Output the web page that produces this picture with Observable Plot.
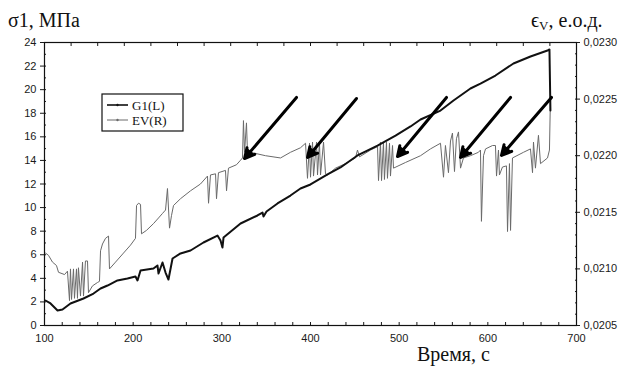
<!DOCTYPE html>
<html>
<head>
<meta charset="utf-8">
<script src="https://cdn.jsdelivr.net/npm/d3@7"></script>
<script src="https://cdn.jsdelivr.net/npm/@observablehq/plot@0.6"></script>
<style>
  body { margin: 0; background: #fff; }
  #chart { width: 625px; height: 369px; overflow: hidden; }
</style>
</head>
<body>
<div id="chart"></div>
<script>
// Stress σ1 (left axis, MPa) versus time, s
const g1Time = [101.1,106.8,114.7,120.3,129.3,144.0,155.3,163.2,171.1,182.3,193.6,202.6,204.9,208.3,222.9,227.4,228.6,233.1,236.5,239.8,244.4,253.4,264.7,279.3,295.1,298.5,300.7,301.9,321.1,340.2,345.9,347.0,350.4,362.8,377.4,388.7,400.0,419.2,433.8,453.0,475.6,495.9,512.8,524.1,546.6,561.3,580.4,591.7,608.6,628.9,648.1,667.3,669.5,670.6];
const g1Stress = [2.12,1.87,1.27,1.36,1.87,2.29,2.71,3.14,3.39,3.82,3.99,4.16,3.82,4.66,4.83,5.09,4.41,5.34,4.49,3.90,5.68,6.11,6.36,7.04,7.63,7.21,6.61,7.46,8.65,9.33,9.58,9.24,9.67,10.35,11.02,11.62,11.96,12.81,13.40,14.42,15.26,16.11,16.88,17.47,18.23,19.08,20.10,20.52,21.20,22.22,22.81,23.32,23.41,18.23];

// Volumetric strain εV (right axis, relative units) versus time, s
const evTime = [101.1,104.5,109.0,113.5,115.8,122.6,125.9,128.2,129.3,130.5,132.7,133.8,136.1,137.2,138.3,140.6,142.9,144.0,146.2,148.5,149.6,154.1,159.8,162.0,163.2,165.4,168.8,172.2,173.3,180.1,189.1,197.0,202.6,203.8,206.0,208.3,209.4,215.0,222.9,228.6,233.1,236.5,238.7,241.0,243.2,245.5,253.4,264.7,275.9,283.8,285.0,287.2,292.9,294.0,296.2,304.1,305.3,307.5,316.5,321.1,323.3,324.4,325.6,327.8,329.0,332.3,349.2,366.2,377.4,388.7,394.4,396.6,398.9,400.0,402.3,403.4,406.8,407.9,410.1,411.3,414.7,416.9,419.2,428.2,439.5,450.7,453.0,455.3,467.7,475.6,476.7,478.9,480.1,482.3,483.4,485.7,486.8,489.1,490.2,492.5,493.6,507.1,524.1,535.3,546.6,550.0,552.2,555.6,557.9,560.1,562.4,564.6,566.9,569.2,572.5,580.4,589.4,591.7,592.8,595.1,597.4,605.3,608.6,609.8,612.0,613.1,616.5,621.0,622.2,624.4,625.6,627.8,640.2,648.1,650.4,651.5,653.7,657.1,659.4,667.3,669.5,670.6];
const evStrain = [0.02114,0.02112,0.02106,0.02103,0.02097,0.02095,0.02098,0.02072,0.02100,0.02073,0.02100,0.02074,0.02100,0.02074,0.02101,0.02076,0.02106,0.02076,0.02107,0.02107,0.02079,0.02085,0.02088,0.02089,0.02116,0.02122,0.02127,0.02129,0.02100,0.02106,0.02114,0.02121,0.02127,0.02156,0.02158,0.02157,0.02131,0.02134,0.02140,0.02145,0.02149,0.02152,0.02171,0.02136,0.02147,0.02156,0.02162,0.02169,0.02175,0.02182,0.02158,0.02183,0.02184,0.02162,0.02185,0.02187,0.02169,0.02189,0.02192,0.02196,0.02198,0.02231,0.02203,0.02229,0.02201,0.02203,0.02200,0.02198,0.02203,0.02207,0.02211,0.02180,0.02211,0.02181,0.02212,0.02182,0.02212,0.02183,0.02212,0.02183,0.02212,0.02184,0.02183,0.02189,0.02193,0.02198,0.02205,0.02199,0.02205,0.02208,0.02178,0.02212,0.02178,0.02212,0.02179,0.02212,0.02180,0.02211,0.02182,0.02209,0.02189,0.02194,0.02200,0.02206,0.02211,0.02181,0.02209,0.02185,0.02213,0.02220,0.02186,0.02215,0.02221,0.02189,0.02198,0.02200,0.02203,0.02205,0.02142,0.02200,0.02206,0.02209,0.02209,0.02182,0.02205,0.02183,0.02190,0.02191,0.02133,0.02193,0.02134,0.02198,0.02203,0.02206,0.02185,0.02212,0.02189,0.02218,0.02193,0.02198,0.02205,0.02251];

// Axis ticks
const xTicks = [100, 200, 300, 400, 500, 600, 700];
const yTicks = [0, 2, 4, 6, 8, 10, 12, 14, 16, 18, 20, 22, 24];
const evTicks = [0.0205, 0.0210, 0.0215, 0.0220, 0.0225, 0.0230];
const evTickLabels = ["0,0205", "0,0210", "0,0215", "0,0220", "0,0225", "0,0230"];

// Arrows marking the instability episodes (time, stress-axis units)
const arrowTailTime = [384.2, 451.9, 553.4, 625.6, 671.8];
const arrowTailStress = [19.34, 19.25, 19.34, 19.34, 19.34];
const arrowTipTime = [325.6, 396.6, 498.1, 569.2, 615.4];
const arrowTipStress = [14.16, 14.25, 14.33, 14.25, 14.42];

// Right axis shares the left axis: map strain onto the stress range
const evToStress = d3.scaleLinear([0.0205, 0.0230], [0, 24]);

const g1 = g1Time.map((t, i) => ({t, s: g1Stress[i]}));
const ev = evTime.map((t, i) => ({t, s: evToStress(evStrain[i])}));
const arrows = arrowTailTime.map((t, i) => ({
  t1: t, s1: arrowTailStress[i], t2: arrowTipTime[i], s2: arrowTipStress[i]
}));

const evPos = evTicks.map(e => evToStress(e));
const evLabelAt = new Map(evPos.map((p, i) => [p, evTickLabels[i]]));
const evMinor = d3.range(0, 26).map(k => evToStress(0.0205 + k * 0.0001));

const chart = Plot.plot({
  width: 625,
  height: 369,
  marginLeft: 44,
  marginRight: 49,
  marginTop: 42,
  marginBottom: 44,
  x: {domain: [100, 700]},
  y: {domain: [0, 24]},
  style: {fontFamily: '"Liberation Sans", Arial, sans-serif', fontSize: "11px", color: "#1a1a1a", background: "#fff"},
  marks: [
    // minor ticks inside the frame
    Plot.axisX({ticks: d3.range(100, 701, 20), tickSize: -3, text: null, label: null}),
    Plot.axisX({anchor: "top", ticks: d3.range(100, 701, 30), tickSize: -3, text: null, label: null}),
    Plot.axisY({ticks: d3.range(1, 24, 1), tickSize: -2, text: null, label: null}),
    Plot.axisY({anchor: "right", ticks: evMinor, tickSize: -2, text: null, label: null}),
    // labelled axes
    Plot.axisX({ticks: xTicks, tickSize: 0, tickPadding: 9, label: null, tickFormat: d => String(d)}),
    Plot.axisY({ticks: yTicks, tickSize: 4, tickPadding: 4, label: null, tickFormat: d => String(d)}),
    Plot.axisY({anchor: "right", ticks: evPos, tickSize: 3, tickPadding: 4, label: null,
                tickFormat: d => evLabelAt.get(d)}),
    Plot.frame({stroke: "#111", strokeWidth: 1.2}),
    Plot.line(ev, {x: "t", y: "s", stroke: "#6a6a6a", strokeWidth: 1}),
    Plot.line(g1, {x: "t", y: "s", stroke: "#111", strokeWidth: 2}),
    Plot.arrow(arrows, {x1: "t1", y1: "s1", x2: "t2", y2: "s2",
                        stroke: "#000", fill: "#000", strokeWidth: 3,
                        headLength: 5.5, headAngle: 55})
  ]
});

document.getElementById("chart").appendChild(chart);

// Axis titles and legend
const svg = d3.select(chart);
const serif = '"Liberation Serif", "Times New Roman", serif';

function label(x, y, size) {
  return svg.append("text").attr("x", x).attr("y", y)
    .style("text-anchor", "start").style("font-family", serif)
    .style("font-size", size + "px").style("fill", "#111");
}

label(8, 27, 20).text("σ1, МПа");

const evTitle = label(531, 27, 20);
evTitle.append("tspan").text("ϵ");
evTitle.append("tspan").style("font-size", "13px").attr("dy", 3).text("V");
evTitle.append("tspan").attr("dy", -3).text(", е.о.д.");

label(417, 361, 20).text("Время, с");

const legend = svg.append("g");
legend.append("rect").attr("x", 102).attr("y", 94).attr("width", 81).attr("height", 37)
  .attr("fill", "#fff").attr("stroke", "#111").attr("stroke-width", 1.2);
const entries = [
  {label: "G1(L)", stroke: "#111", width: 1.6, y: 105},
  {label: "EV(R)", stroke: "#6a6a6a", width: 1, y: 120}
];
entries.forEach(e => {
  legend.append("line").attr("x1", 107).attr("x2", 128).attr("y1", e.y).attr("y2", e.y)
    .attr("stroke", e.stroke).attr("stroke-width", e.width);
  legend.append("circle").attr("cx", 117.5).attr("cy", e.y).attr("r", 1.2).attr("fill", e.stroke);
  legend.append("text").attr("x", 132).attr("y", e.y + 5)
    .style("text-anchor", "start").style("font-family", serif)
    .style("font-size", "13px").style("fill", "#111").text(e.label);
});
</script>
</body>
</html>
